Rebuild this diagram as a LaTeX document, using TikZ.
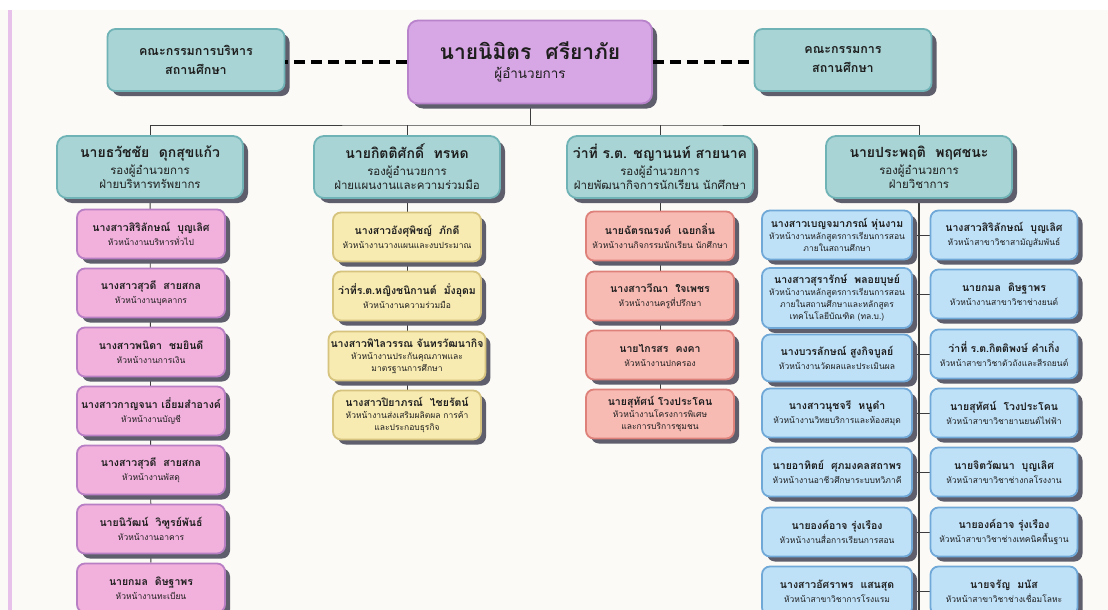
\documentclass[tikz,border=0pt]{standalone}
\usepackage{fontspec}
\setmainfont[Script=Thai]{Loma}
\usetikzlibrary{shadows,backgrounds}

\definecolor{paper}{HTML}{FBFAF6}
\definecolor{rail}{HTML}{E8C1EB}
\definecolor{shade}{HTML}{5E5E6C}
\definecolor{tealfill}{HTML}{A9D4D5}
\definecolor{tealline}{HTML}{6FB3B6}
\definecolor{chieffill}{HTML}{D7A6E4}
\definecolor{chiefline}{HTML}{B883CB}
\definecolor{pinkfill}{HTML}{F1B1DC}
\definecolor{pinkline}{HTML}{B97FC4}
\definecolor{yelfill}{HTML}{F8EBB2}
\definecolor{yelline}{HTML}{D6C47E}
\definecolor{salfill}{HTML}{F8BBB4}
\definecolor{salline}{HTML}{DD817A}
\definecolor{bluefill}{HTML}{BFE1F8}
\definecolor{blueline}{HTML}{70A9D8}
\definecolor{ink}{HTML}{1E1E1E}
\definecolor{wirec}{HTML}{3C3C3C}

\newcommand\nm{\bfseries\fontsize{10.5}{12}\selectfont}
\newcommand\card[2]{{\nm #1}\\[2pt]#2}
\newcommand\dep[2]{{\bfseries\fontsize{14}{17}\selectfont #1}\\[3pt]รองผู้อำนวยการ\\#2}

\tikzset{
  box/.style={rounded corners=8pt, line width=1.8pt, align=center, inner sep=2pt, text=ink,
    drop shadow={shadow xshift=5pt,shadow yshift=-5pt,fill=shade,opacity=1}},
  board/.style={box, fill=tealfill, draw=tealline, minimum width=177pt, minimum height=62pt,
    font=\bfseries\fontsize{12.5}{19}\selectfont},
  chief/.style={box, rounded corners=10pt, fill=chieffill, draw=chiefline, minimum width=244pt,
    minimum height=83pt, font=\fontsize{13.5}{16}\selectfont},
  deputy/.style={box, rounded corners=10pt, fill=tealfill, draw=tealline, minimum width=186pt,
    minimum height=62pt, font=\fontsize{11.5}{14}\selectfont},
  staff/.style={box, minimum width=148pt, minimum height=49pt, font=\fontsize{8.5}{12}\selectfont},
  pinkcard/.style={staff, fill=pinkfill, draw=pinkline},
  yelcard/.style={staff, fill=yelfill, draw=yelline},
  salcard/.style={staff, fill=salfill, draw=salline},
  bluecard/.style={staff, fill=bluefill, draw=blueline},
  wire/.style={draw=wirec, line width=0.9pt},
  linkdash/.style={draw=black, line width=4pt, dash pattern=on 11pt off 6pt},
}

\begin{document}
\begin{tikzpicture}[x=1pt,y=-1pt]
  \useasboundingbox (0,0) rectangle (1108,610);
  \clip (0,0) rectangle (1108,610);

  %%%%% TOP %%%%%
  \node[board] (execb) at (196,60) {คณะกรรมการบริหาร\\สถานศึกษา};
  \node[chief] (chief) at (530,62) {{\bfseries\fontsize{21}{24}\selectfont นายนิมิตร~~ศรียาภัย}\\[3pt]ผู้อำนวยการ};
  \node[board] (schoolb) at (843,60) {คณะกรรมการ\\สถานศึกษา};
  \draw[linkdash] (chief.west) -- (chief.west -| execb.east);
  \draw[linkdash] (chief.east) -- (chief.east -| schoolb.west);

  %%%%% DEPUTIES %%%%%
  \node[deputy] (h1) at (150,167) {\dep{นายธวัชชัย~~ดุกสุขแก้ว}{ฝ่ายบริหารทรัพยากร}};
  \node[deputy] (h2) at (407,167) {\dep{นายกิตติศักดิ์~~ทรหด}{ฝ่ายแผนงานและความร่วมมือ}};
  \node[deputy] (h3) at (660,167) {\dep{ว่าที่ ร.ต. ชญานนท์ สายนาค}{ฝ่ายพัฒนากิจการนักเรียน นักศึกษา}};
  \node[deputy] (h4) at (919,167) {\dep{นายประพฤติ~~พฤศชนะ}{ฝ่ายวิชาการ}};

  %%%%% RESOURCES %%%%%
  \node[pinkcard] (p1) at (151,234) {\card{นางสาวสิริลักษณ์~~บุญเลิศ}{หัวหน้างานบริหารทั่วไป}};
  \node[pinkcard] (p2) at (151,293) {\card{นางสาวสุวดี~~สายสกล}{หัวหน้างานบุคลากร}};
  \node[pinkcard] (p3) at (151,352) {\card{นางสาวพนิดา~~ชมยินดี}{หัวหน้างานการเงิน}};
  \node[pinkcard] (p4) at (151,411) {\card{นางสาวกาญจนา เอี่ยมสำอางค์}{หัวหน้างานบัญชี}};
  \node[pinkcard] (p5) at (151,470) {\card{นางสาวสุวดี~~สายสกล}{หัวหน้างานพัสดุ}};
  \node[pinkcard] (p6) at (151,529) {\card{นายนิวัฒน์~~วิฑูรย์พันธ์}{หัวหน้างานอาคาร}};
  \node[pinkcard] (p7) at (151,588) {\card{นายกมล~~ดิษฐาพร}{หัวหน้างานทะเบียน}};

  %%%%% PLANNING %%%%%
  \node[yelcard] (y1) at (407,237) {\card{นางสาวอังศุพิชญ์~~ภักดี}{หัวหน้างานวางแผนและงบประมาณ}};
  \node[yelcard] (y2) at (407,296) {\card{ว่าที่ร.ต.หญิงชนิกานต์~~มั่งอุดม}{หัวหน้างานความร่วมมือ}};
  \node[yelcard] (y3) at (407,356) {{\nm นางสาวพิไลวรรณ จันทรวัฒนากิจ}\\หัวหน้างานประกันคุณภาพและ\\มาตรฐานการศึกษา};
  \node[yelcard] (y4) at (407,415) {{\nm นางสาวปิยาภรณ์~~ไชยรัตน์}\\หัวหน้างานส่งเสริมผลิตผล การค้า\\และประกอบธุรกิจ};

  %%%%% STUDENT AFFAIRS %%%%%
  \node[salcard] (s1) at (660,236) {\card{นายฉัตรณรงค์~~เฉยกลิ่น}{หัวหน้างานกิจกรรมนักเรียน นักศึกษา}};
  \node[salcard] (s2) at (660,296) {\card{นางสาววีณา~~ใจเพชร}{หัวหน้างานครูที่ปรึกษา}};
  \node[salcard] (s3) at (660,355) {\card{นายไกรสร~~คงคา}{หัวหน้างานปกครอง}};
  \node[salcard] (s4) at (660,414) {{\nm นายสุทัศน์ โวงประโคน}\\หัวหน้างานโครงการพิเศษ\\และการบริการชุมชน};

  %%%%% ACADEMIC %%%%%
  \node[bluecard, minimum width=150pt] (l1) at (837,235) {{\nm นางสาวเบญจมาภรณ์ หุ่นงาม}\\หัวหน้างานหลักสูตรการเรียนการสอน\\ภายในสถานศึกษา};
  \node[bluecard, minimum width=150pt, minimum height=60pt] (l2) at (837,298) {{\nm นางสาวสุรารักษ์~~พลอยบุษย์}\\หัวหน้างานหลักสูตรการเรียนการสอน\\ภายในสถานศึกษาและหลักสูตร\\เทคโนโลยีบัณฑิต (ทล.บ.)};
  \node[bluecard, minimum width=150pt, minimum height=47pt] (l3) at (837,358) {\card{นางบวรลักษณ์ สูงกิจบูลย์}{หัวหน้างานวัดผลและประเมินผล}};
  \node[bluecard, minimum width=150pt] (l4) at (837,413) {\card{นางสาวนุชจรี~~หนูดำ}{หัวหน้างานวิทยบริการและห้องสมุด}};
  \node[bluecard, minimum width=150pt] (l5) at (837,472) {\card{นายอาทิตย์~~ศุภมงคลสถาพร}{หัวหน้างานอาชีวศึกษาระบบทวิภาคี}};
  \node[bluecard, minimum width=150pt] (l6) at (837,532) {\card{นายองค์อาจ รุ่งเรือง}{หัวหน้างานสื่อการเรียนการสอน}};
  \node[bluecard, minimum width=150pt] (l7) at (837,591) {\card{นางสาวอัศราพร~~แสนสุด}{หัวหน้าสาขาวิชาการโรงแรม}};

  \node[bluecard, minimum width=147pt] (r1) at (1004,235) {\card{นางสาวสิริลักษณ์~~บุญเลิศ}{หัวหน้าสาขาวิชาสามัญสัมพันธ์}};
  \node[bluecard, minimum width=147pt] (r2) at (1004,294) {\card{นายกมล~~ดิษฐาพร}{หัวหน้างานสาขาวิชาช่างยนต์}};
  \node[bluecard, minimum width=147pt] (r3) at (1004,354) {\card{ว่าที่ ร.ต.กิตติพงษ์ คำเกิ่ง}{หัวหน้าสาขาวิชาตัวถังและสีรถยนต์}};
  \node[bluecard, minimum width=147pt] (r4) at (1004,413) {\card{นายสุทัศน์~~โวงประโคน}{หัวหน้าสาขาวิชายานยนต์ไฟฟ้า}};
  \node[bluecard, minimum width=147pt] (r5) at (1004,472) {\card{นายจิตวัฒนา~~บุญเลิศ}{หัวหน้าสาขาวิชาช่างกลโรงงาน}};
  \node[bluecard, minimum width=147pt] (r6) at (1004,532) {\card{นายองค์อาจ รุ่งเรือง}{หัวหน้าสาขาวิชาช่างเทคนิคพื้นฐาน}};
  \node[bluecard, minimum width=147pt] (r7) at (1004,591) {\card{นายจรัญ~~มนัส}{หัวหน้าสาขาวิชาช่างเชื่อมโลหะ}};

  %%%%% LINES %%%%%
  \begin{scope}[on background layer]
    \fill[white] (0,0) rectangle (1108,610);
    \fill[paper] (0,10) rectangle (1108,610);
    \fill[rail] (8,10) rectangle (11.5,610);
    \coordinate (bus) at (530,125);
    \draw[wire] (chief) -- (bus);
    \draw[wire] (h1) |- (bus) -| (h4);
    \draw[wire] (h2) -- (h2 |- bus);
    \draw[wire] (h3) -- (h3 |- bus);
    \draw[wire] (h1) -- (p7);
    \draw[wire] (h2) -- (y4);
    \draw[wire] (h3) -- (s4);
    \draw[wire, line width=1.2pt] (h4) -- (h4 |- r7.south);
    \foreach \i in {1,...,7}
      \draw[wire] (r\i.west) -- (r\i.west -| l\i.east);
  \end{scope}
\end{tikzpicture}
\end{document}
